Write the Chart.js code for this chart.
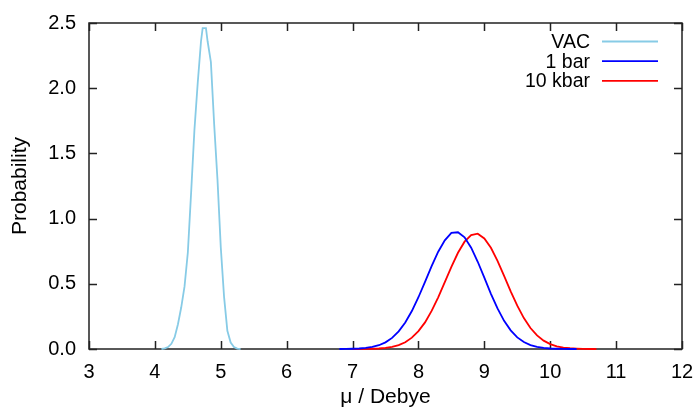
<!DOCTYPE html>
<html>
<head>
<meta charset="utf-8">
<script src="https://cdn.jsdelivr.net/npm/chart.js@4.4.1/dist/chart.umd.min.js"></script>
<style>
  html, body { margin: 0; padding: 0; background: #fff; }
  #wrap { width: 698px; height: 411px; }
</style>
</head>
<body>
<div id="wrap"><canvas id="grafica"></canvas></div>
<script>
// valores
var vacMu = [4.10, 4.15, 4.20, 4.25, 4.30, 4.35, 4.40, 4.45, 4.50, 4.55, 4.60, 4.65, 4.70, 4.725,
             4.775, 4.80, 4.85, 4.90, 4.95, 5.00, 5.05, 5.10, 5.15, 5.20, 5.25, 5.30];
var vacProb = [0.0, 0.005, 0.015, 0.04, 0.09, 0.19, 0.32, 0.48, 0.74, 1.20, 1.68, 2.04, 2.36, 2.46,
               2.46, 2.36, 2.20, 1.72, 1.30, 0.78, 0.40, 0.14, 0.05, 0.015, 0.003, 0.0];

var barMu = [6.8, 6.9, 7.0, 7.1, 7.2, 7.3, 7.4, 7.5, 7.6, 7.7, 7.8, 7.9, 8.0, 8.1, 8.2, 8.3, 8.4,
             8.5, 8.6, 8.7, 8.8, 8.9, 9.0, 9.1, 9.2, 9.3, 9.4, 9.5, 9.6, 9.7, 9.8, 9.9, 10.0,
             10.1, 10.2, 10.3, 10.4];
var barProb = [0.0, 0.001, 0.002, 0.004, 0.008, 0.016, 0.029, 0.051, 0.085, 0.135, 0.203, 0.291,
               0.397, 0.515, 0.636, 0.746, 0.833, 0.89, 0.895, 0.856, 0.777, 0.669, 0.547, 0.423,
               0.311, 0.216, 0.143, 0.089, 0.053, 0.030, 0.016, 0.008, 0.004, 0.002, 0.001, 0.0, 0.0];

var kbarMu = [7.0, 7.1, 7.2, 7.3, 7.4, 7.5, 7.6, 7.7, 7.8, 7.9, 8.0, 8.1, 8.2, 8.3, 8.4, 8.5, 8.6,
              8.7, 8.8, 8.9, 9.0, 9.1, 9.2, 9.3, 9.4, 9.5, 9.6, 9.7, 9.8, 9.9, 10.0, 10.1, 10.2,
              10.3, 10.4, 10.5, 10.6, 10.7];
var kbarProb = [0.0, 0.0, 0.001, 0.002, 0.004, 0.009, 0.017, 0.030, 0.052, 0.087, 0.137, 0.204,
                0.292, 0.396, 0.513, 0.630, 0.738, 0.823, 0.873, 0.884, 0.848, 0.776, 0.676,
                0.560, 0.442, 0.332, 0.237, 0.161, 0.104, 0.064, 0.038, 0.021, 0.011, 0.006,
                0.003, 0.001, 0.0, 0.0];

var etiquetas = ["VAC", "1 bar", "10 kbar"];
var colores = ["#87cbe6", "#0000ff", "#ff0000"];
var xTicks = [3, 4, 5, 6, 7, 8, 9, 10, 11, 12];
var yTicks = [0.0, 0.5, 1.0, 1.5, 2.0, 2.5];

function puntos(xs, ys) {
    var lista = [];
    for (var i = 0; i < xs.length; i++) {
        lista.push({ x: xs[i], y: ys[i] });
    }
    return lista;
}

var fuente = "'Liberation Sans', Arial, sans-serif";
Chart.defaults.font.family = fuente;
Chart.defaults.font.size = 20;
Chart.defaults.color = "#000";

// marco estilo gnuplot con marcas hacia dentro
var marco = {
    id: "marco",
    beforeDatasetsDraw: function (chart) {
        var ctx = chart.ctx;
        var a = chart.chartArea;
        var sx = chart.scales.x, sy = chart.scales.y;
        var largo = 8;
        ctx.save();
        ctx.strokeStyle = "#222";
        ctx.lineWidth = 1.5;
        ctx.strokeRect(a.left, a.top, a.right - a.left, a.bottom - a.top);
        ctx.beginPath();
        xTicks.forEach(function (v) {
            var px = Math.round(sx.getPixelForValue(v)) + 0.5;
            ctx.moveTo(px, a.bottom); ctx.lineTo(px, a.bottom - largo);
            ctx.moveTo(px, a.top); ctx.lineTo(px, a.top + largo);
        });
        yTicks.forEach(function (v) {
            var py = Math.round(sy.getPixelForValue(v)) + 0.5;
            ctx.moveTo(a.left, py); ctx.lineTo(a.left + largo, py);
            ctx.moveTo(a.right, py); ctx.lineTo(a.right - largo, py);
        });
        ctx.stroke();
        ctx.restore();
    },
    afterDatasetsDraw: function (chart) {
        var ctx = chart.ctx;
        var a = chart.chartArea;
        ctx.save();
        ctx.font = "19.5px " + fuente;
        ctx.textAlign = "right";
        ctx.textBaseline = "middle";
        chart.data.datasets.forEach(function (ds, i) {
            var y = a.top + 18.5 + i * 19.7;
            ctx.fillStyle = "#000";
            ctx.fillText(ds.label, a.right - 92, y + 1);
            ctx.strokeStyle = ds.borderColor;
            ctx.lineWidth = 1.8;
            ctx.beginPath();
            ctx.moveTo(a.right - 80, y);
            ctx.lineTo(a.right - 24, y);
            ctx.stroke();
        });
        ctx.restore();
    }
};

var datosGrafica = {
    datasets: [
        { label: etiquetas[0], data: puntos(vacMu, vacProb), borderColor: colores[0] },
        { label: etiquetas[1], data: puntos(barMu, barProb), borderColor: colores[1] },
        { label: etiquetas[2], data: puntos(kbarMu, kbarProb), borderColor: colores[2] }
    ]
};
datosGrafica.datasets.forEach(function (ds) {
    ds.showLine = true;
    ds.pointRadius = 0;
    ds.borderWidth = 1.8;
    ds.tension = 0;
    ds.fill = false;
    ds.clip = false;
});

var myChart = new Chart(document.getElementById("grafica"), {
    type: "scatter",
    data: datosGrafica,
    plugins: [marco],
    options: {
        responsive: true,
        maintainAspectRatio: false,
        animation: false,
        layout: { padding: { top: 23, right: 16, bottom: 0, left: 0 } },
        plugins: { legend: { display: false }, tooltip: { enabled: false } },
        scales: {
            x: {
                type: "linear",
                min: 3, max: 12,
                grid: { display: false, drawTicks: false },
                border: { display: false },
                ticks: { stepSize: 1, padding: 11, maxRotation: 0 },
                title: { display: true, text: "μ / Debye", font: { size: 21 }, padding: { top: 0, bottom: 1 } },
                afterFit: function (s) { s.height = 62; s.paddingLeft = 0; s.paddingRight = 0; }
            },
            y: {
                min: 0, max: 2.5,
                grid: { display: false, drawTicks: false },
                border: { display: false },
                ticks: {
                    stepSize: 0.5, padding: 13,
                    callback: function (v) { return v.toFixed(1); }
                },
                title: { display: true, text: "Probability", font: { size: 21 }, padding: { top: 8, bottom: 0 } },
                afterFit: function (s) { s.width = 89; s.paddingTop = 0; s.paddingBottom = 0; }
            }
        }
    }
});
</script>
</body>
</html>
